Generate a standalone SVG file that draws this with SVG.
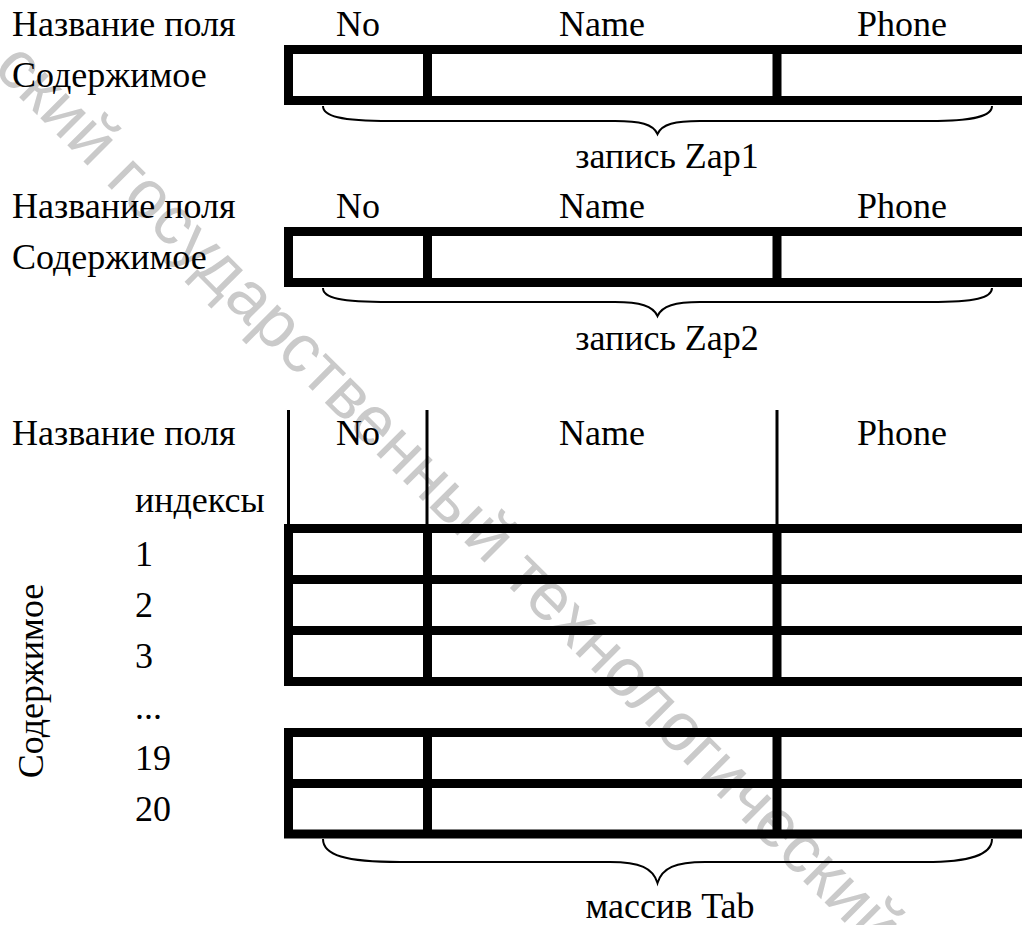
<svg xmlns="http://www.w3.org/2000/svg" width="1022" height="925" viewBox="0 0 1022 925">
<style>
  .t { font-family: 'Liberation Serif', 'Tinos', 'Noto Serif', 'DejaVu Serif', 'FreeSerif', 'Times New Roman', Times, serif; font-size: 36px; fill: #000; }
  .m { text-anchor: middle; }
  .thick { stroke: #000; stroke-width: 9; fill: none; stroke-linecap: square; }
  .thin { stroke: #000; stroke-width: 3; fill: none; }
  .brace { stroke: #000; stroke-width: 2; fill: none; }
  .wm { font-family: 'Liberation Sans', Arial, sans-serif; font-size: 68px; fill: #cacaca; }
</style>
<rect width="1022" height="925" fill="#fff"/>
<g id="watermark">
  <text class="wm" transform="translate(-8,70) rotate(45)">ский государственный технологический</text>
</g>

<g id="record1">
  <text class="t" x="12" y="36">Название поля</text>
  <text class="t" x="12" y="87">Содержимое</text>
  <text class="t m" x="358" y="36">No</text>
  <text class="t m" x="602" y="36">Name</text>
  <text class="t m" x="902" y="36">Phone</text>
  <path class="thick" d="M1030,49.5 H288.5 V100.5 H1030 M427.5,49.5 V100.5 M777,49.5 V100.5"/>
  <text class="t m" x="667" y="168">запись Zap1</text>
</g>

<g id="record2">
  <text class="t" x="12" y="218">Название поля</text>
  <text class="t" x="12" y="269">Содержимое</text>
  <text class="t m" x="358" y="218">No</text>
  <text class="t m" x="602" y="218">Name</text>
  <text class="t m" x="902" y="218">Phone</text>
  <path class="thick" d="M1030,231.5 H288.5 V282.5 H1030 M427.5,231.5 V282.5 M777,231.5 V282.5"/>
  <text class="t m" x="667" y="350">запись Zap2</text>
</g>

<g id="array">
  <text class="t" x="12" y="445">Название поля</text>
  <text class="t m" x="358" y="445">No</text>
  <text class="t m" x="602" y="445">Name</text>
  <text class="t m" x="902" y="445">Phone</text>
  <text class="t" x="135" y="512">индексы</text>
  <text class="t" x="135" y="566">1</text>
  <text class="t" x="135" y="617">2</text>
  <text class="t" x="135" y="668">3</text>
  <text class="t" x="135" y="719">...</text>
  <text class="t" x="135" y="770">19</text>
  <text class="t" x="135" y="821">20</text>
  <text class="t m" transform="translate(43,681) rotate(-90)">Содержимое</text>
  <path class="thin" d="M288.5,410 V528 M427,410 V528 M777,410 V528"/>
  <path class="thick" d="M1030,528.5 H288.5 V681.5 H1030 M288.5,579.5 H1030 M288.5,630.5 H1030 M427.5,528.5 V681.5 M777,528.5 V681.5"/>
  <path class="thick" d="M1030,732.5 H288.5 V834 H1030 M288.5,783.5 H1030 M427.5,732.5 V834 M777,732.5 V834"/>
  <text class="t m" x="670" y="918">массив Tab</text>
</g>

<g id="connectors">
  <path class="brace" d="M323,106 C323,116 340,121 390,121 L615,121 C640,121 653,124 657.5,134 C662,124 675,121 700,121 L930,121 C975,121 992,116 992,106"/>
  <path class="brace" d="M323,288 C323,298 340,302 390,302 L615,302 C640,302 653,306 657.5,316 C662,306 675,302 700,302 L930,302 C975,302 992,298 992,288"/>
  <path class="brace" d="M323,839 C323,855 345,862 400,862 L610,862 C640,862 653,868 657.5,883 C662,868 675,862 705,862 L925,862 C970,862 992,855 992,839"/>
</g>
</svg>
